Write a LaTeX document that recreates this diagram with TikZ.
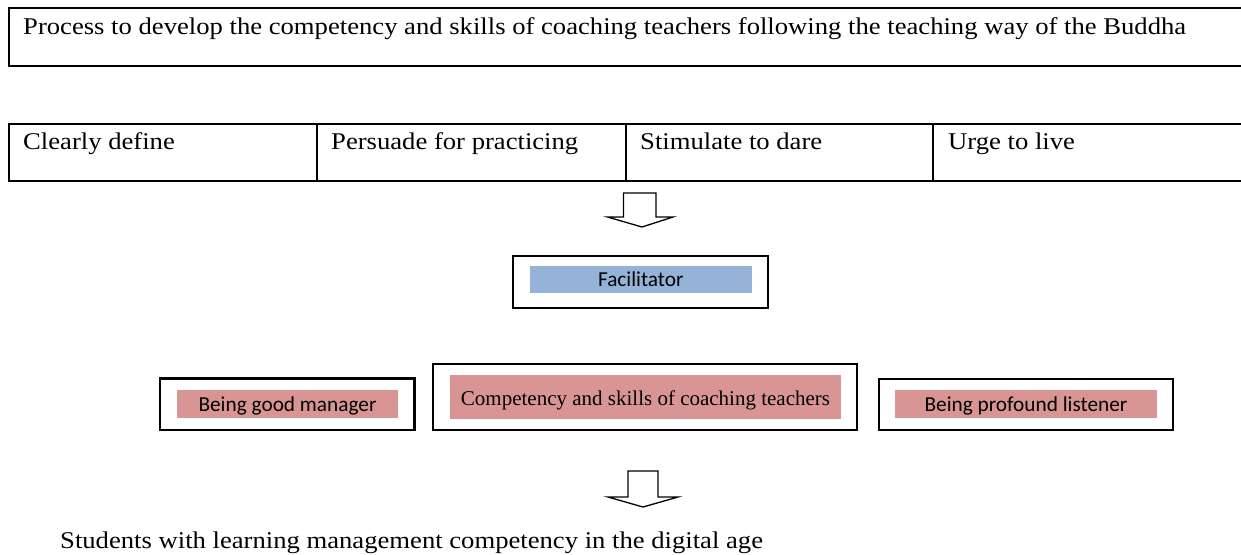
\documentclass[tikz,border=0pt]{standalone}
\usepackage{fontspec}
\setmainfont{Liberation Serif}
\newfontfamily\widefont[FakeStretch=1.11]{Liberation Serif}
\newfontfamily\calfont{Carlito}
\definecolor{barblue}{HTML}{95B3D7}
\definecolor{barpink}{HTML}{D99594}
\begin{document}
\begin{tikzpicture}[x=1pt,y=-1pt,
  box/.style={draw, line width=2.2pt, inner sep=0pt, outer sep=0pt},
  bar/.style={inner sep=0pt, outer sep=0pt},
  bigtext/.style={anchor=base west, inner sep=0pt, font=\widefont\fontsize{24}{28}\selectfont},
  caltext/.style={anchor=base, inner sep=0pt, font=\calfont\fontsize{21.3}{25}\selectfont},
  sertext/.style={anchor=base, inner sep=0pt, font=\fontsize{21}{25}\selectfont},
  blockarrow/.style={draw, line width=1.3pt, fill=white, line join=miter}]
\useasboundingbox (0,0) rectangle (1241,554);

% heading box (runs off the right edge)
\node[box, minimum width=1260pt, minimum height=58pt, anchor=north west] (title) at (9,8) {};
\node[bigtext] (titletext) at (23,34.5) {Process to develop the competency and skills of coaching teachers following the teaching way of the Buddha};

% row of four steps
\node[box, minimum width=308pt, minimum height=57pt, anchor=north west] (s1) at (9,124) {};
\node[box, minimum width=309pt, minimum height=57pt, anchor=north west] (s2) at (317,124) {};
\node[box, minimum width=307pt, minimum height=57pt, anchor=north west] (s3) at (626,124) {};
\node[box, minimum width=330pt, minimum height=57pt, anchor=north west] (s4) at (933,124) {};
\node[bigtext] (t1) at (23,149.5) {Clearly define};
\node[bigtext] (t2) at (331,149.5) {Persuade for practicing};
\node[bigtext] (t3) at (640,149.5) {Stimulate to dare};
\node[bigtext] (t4) at (948,149.5) {Urge to live};

% first block arrow
\coordinate (a1) at (640,193);
\draw[blockarrow] (a1) ++(-16.5,0) -- ++(0,24) -- ++(-16,0) -- (642,227)
  -- (673,217) -- ++(-17,0) -- ++(0,-24) -- cycle;

% facilitator
\node[box, minimum width=255.6pt, minimum height=52pt] (fac) at (640.5,281.7) {};
\node[bar, fill=barblue, minimum width=221.7pt, minimum height=27.3pt] (facbar) at (640.8,279.7) {};
\node[caltext] (factext) at (facbar.center |- 0,286.7) {Facilitator};

% three components
\node[box, minimum width=254.5pt, minimum height=51.5pt] (mgr) at (287.25,404.25) {};
\node[bar, fill=barpink, minimum width=221pt, minimum height=27.5pt] (mgrbar) at (287.5,403.75) {};
\node[caltext] (mgrtext) at (mgrbar.center |- 0,411) {Being good manager};

\node[box, minimum width=424pt, minimum height=66pt] (core) at (645,397) {};
\node[bar, fill=barpink, minimum width=391pt, minimum height=43.5pt] (corebar) at (645.5,396.75) {};
\node[sertext] (coretext) at (corebar.center |- 0,405.7) {Competency and skills of coaching teachers};

\node[box, minimum width=294.6pt, minimum height=51.3pt] (lst) at (1026,404.3) {};
\node[bar, fill=barpink, minimum width=262pt, minimum height=27.7pt] (lstbar) at (1026,403.8) {};
\node[caltext] (lsttext) at (lstbar.center |- 0,411) {Being profound listener};

% second block arrow
\coordinate (a2) at (643,471);
\draw[blockarrow] (a2) ++(-15,0) -- ++(0,26) -- ++(-20,0) -- (643,507)
  -- (678,497) -- ++(-20,0) -- ++(0,-26) -- cycle;

% outcome
\node[bigtext] (outcome) at (60,548) {Students with learning management competency in the digital age};
\end{tikzpicture}
\end{document}
